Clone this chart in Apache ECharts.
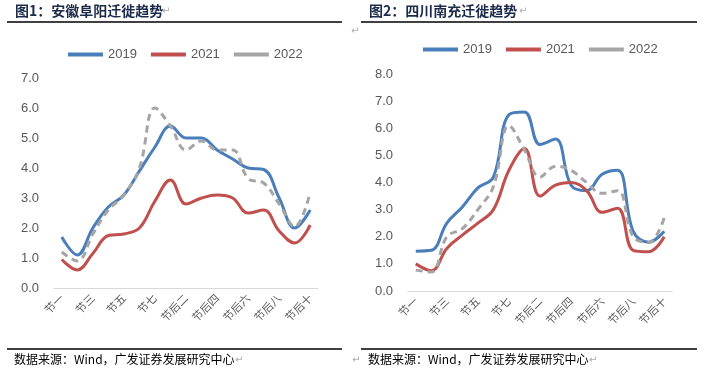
<!DOCTYPE html>
<html><head><meta charset="utf-8">
<script src="https://cdn.jsdelivr.net/npm/echarts@6/dist/echarts.min.js"></script>
<style>html,body{margin:0;padding:0;background:#fff;}#c{width:703px;height:378px;}</style>
</head><body><div id="c"></div>
<script>
var categories = ['节一','节二','节三','节四','节五','节六','节七','节后一','节后二','节后三','节后四','节后五','节后六','节后七','节后八','节后九','节后十'];
var seriesNames = ['2019','2021','2022'];
var fuyang2019 = [1.7,1.1,2.0,2.7,3.1,3.9,4.7,5.4,5.0,5.0,4.6,4.3,4.0,3.95,3.0,2.0,2.6];
var fuyang2021 = [0.95,0.6,1.15,1.75,1.8,2.0,2.9,3.6,2.8,3.0,3.1,3.0,2.5,2.6,1.9,1.5,2.1];
var fuyang2022 = [1.2,0.9,1.8,2.6,3.1,4.0,6.0,5.4,4.6,4.9,4.6,4.6,3.65,3.5,2.8,2.05,3.2];
var nanchong2019 = [1.47,1.5,2.5,3.1,3.8,4.2,6.5,6.6,5.4,5.6,3.9,3.7,4.3,4.45,2.2,1.8,2.2];
var nanchong2021 = [1.0,0.75,1.57,2.06,2.5,3.0,4.45,5.25,3.5,3.9,4.0,3.7,2.9,3.05,1.5,1.45,2.0];
var nanchong2022 = [0.77,0.7,2.0,2.3,3.0,3.85,6.1,5.2,4.2,4.6,4.45,4.0,3.6,3.7,2.0,1.8,2.7];
var leftTitle = '图1：安徽阜阳迁徙趋势';
var rightTitle = '图2：四川南充迁徙趋势';
var sourceText = '数据来源：Wind，广发证券发展研究中心';

var colors = ['#4a7ebb','#c0504d','#a5a5a5'];
var FONT = '"Liberation Sans", Arial, "Noto Sans CJK SC", sans-serif';

function xAxis(gi){
  return {type:'category', gridIndex:gi, data:categories, boundaryGap:true,
    axisLine:{lineStyle:{color:'#d9d9d9',width:1}}, axisTick:{show:false},
    axisLabel:{interval:1, rotate:45, color:'#595959', fontSize:11, fontFamily:'"Noto Sans CJK SC", sans-serif', margin:8}};
}
function yAxis(gi,max){
  return {type:'value', gridIndex:gi, min:0, max:max, interval:1,
    axisLine:{show:false}, axisTick:{show:false}, splitLine:{show:false},
    axisLabel:{color:'#595959', fontSize:13, fontFamily:FONT, margin:15, formatter:function(v){return v.toFixed(1);}}};
}
function mk(name, data, idx, gi){
  return {name:name, type:'line', xAxisIndex:gi, yAxisIndex:gi, data:data, smooth:0.4,
    showSymbol:false, symbol:'none', color:colors[idx],
    lineStyle:{width:3, color:colors[idx], type: idx===2 ? [7,5] : 'solid'}};
}
function legend(left, top){
  return {left:left, top:top, itemWidth:35, itemHeight:4, itemGap:14, icon:'rect',
    textStyle:{color:'#595959', fontSize:13, fontFamily:FONT},
    data:seriesNames.map(function(n){return {name:n};})};
}
var ret = '↵';
var chart = echarts.init(document.getElementById('c'), null, {renderer:'canvas'});
chart.setOption({
  animation:false,
  grid:[{left:54, right:385, top:78, bottom:90},{left:408, right:31, top:74, bottom:87}],
  xAxis:[xAxis(0), xAxis(1)],
  yAxis:[yAxis(0,7), yAxis(1,8)],
  legend:[legend(63,43), legend(418,38)],
  series:[
    mk(seriesNames[0], fuyang2019, 0, 0), mk(seriesNames[1], fuyang2021, 1, 0), mk(seriesNames[2], fuyang2022, 2, 0),
    mk(seriesNames[0], nanchong2019, 0, 1), mk(seriesNames[1], nanchong2021, 1, 1), mk(seriesNames[2], nanchong2022, 2, 1)
  ],
  graphic:[
    {type:'text', left:15, top:4, style:{text:leftTitle, fill:'#1c2b4a', font:'bold 14px "Noto Sans CJK SC", sans-serif'}},
    {type:'text', left:369, top:4, style:{text:rightTitle, fill:'#1c2b4a', font:'bold 14px "Noto Sans CJK SC", sans-serif'}},
    {type:'line', shape:{x1:7,y1:22,x2:342,y2:22}, style:{stroke:'#000',lineWidth:1.3}},
    {type:'line', shape:{x1:361,y1:22,x2:697,y2:22}, style:{stroke:'#000',lineWidth:1.3}},
    {type:'line', shape:{x1:7,y1:349,x2:342,y2:349}, style:{stroke:'#000',lineWidth:1.3}},
    {type:'line', shape:{x1:361,y1:349,x2:697,y2:349}, style:{stroke:'#000',lineWidth:1.3}},
    {type:'text', left:14, top:353, style:{text:sourceText, fill:'#000', font:'12px "Noto Sans CJK SC", sans-serif'}},
    {type:'text', left:368, top:353, style:{text:sourceText, fill:'#000', font:'12px "Noto Sans CJK SC", sans-serif'}},
    {type:'text', left:162, top:6, style:{text:ret, fill:'#aaa', font:'10px "DejaVu Sans"'}},
    {type:'text', left:519, top:6, style:{text:ret, fill:'#aaa', font:'10px "DejaVu Sans"'}},
    {type:'text', left:235, top:355, style:{text:ret, fill:'#aaa', font:'10px "DejaVu Sans"'}},
    {type:'text', left:589, top:355, style:{text:ret, fill:'#aaa', font:'10px "DejaVu Sans"'}},
    {type:'text', left:351, top:26, style:{text:ret, fill:'#aaa', font:'10px "DejaVu Sans"'}},
    {type:'text', left:352, top:355, style:{text:ret, fill:'#aaa', font:'10px "DejaVu Sans"'}}
  ]
});
</script></body></html>
